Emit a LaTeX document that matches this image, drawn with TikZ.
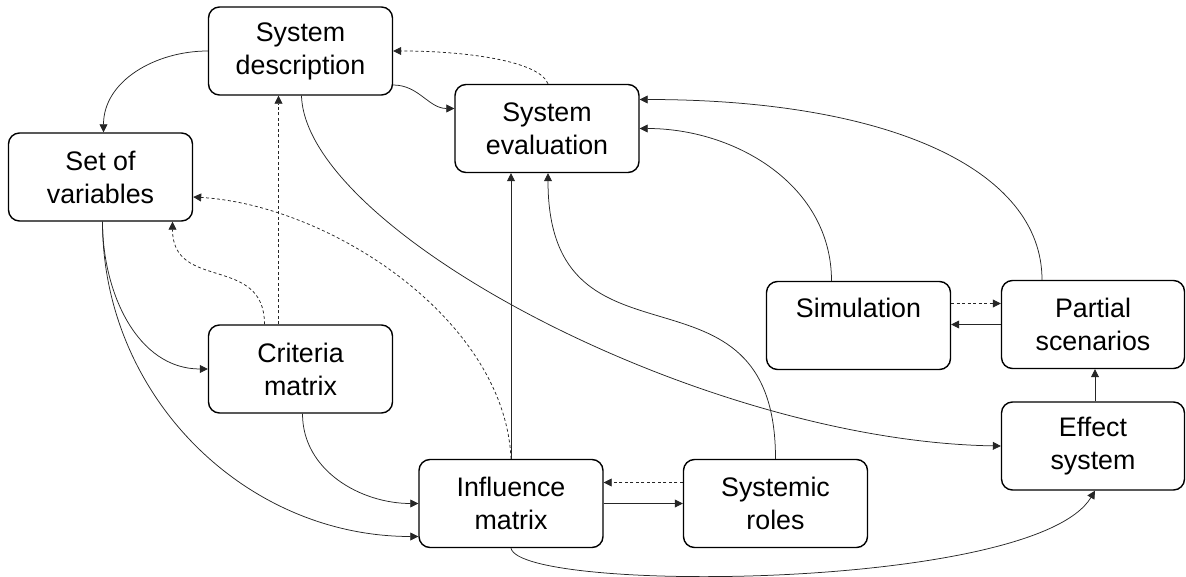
\documentclass[tikz,border=0pt]{standalone}
\usepackage{fontspec}
\setmainfont{Liberation Sans}
\usetikzlibrary{arrows.meta,calc}
\begin{document}
\begin{tikzpicture}[x=1pt,y=1pt,
  box/.style={draw=black,line width=1.4pt,rounded corners=11pt,minimum width=184pt,minimum height=88pt,align=center,font=\fontsize{26.8}{33}\selectfont,inner sep=2pt},
  conn/.style={line width=0.75pt,draw=black!85,-{Triangle[length=8pt,width=8pt]}},
  dconn/.style={conn,dash pattern=on 3pt off 2.5pt}]
\useasboundingbox (0,0) rectangle (1186,-577);
\node[box] (SD) at (300.5,-51) {System\\description};
\node[box] (SE) at (547,-128.5) {System\\evaluation};
\node[box] (SV) at (100.5,-177) {Set of\\variables};
\node[box] (CM) at (300.5,-369) {Criteria\\matrix};
\node[box] (IM) at (511,-503.5) {Influence\\matrix};
\node[box] (SR) at (775.5,-503.5) {Systemic\\roles};
\node[box,text depth=35pt] (Sim) at (858.5,-325.5) {Simulation};
\node[box,minimum width=183pt] (PS) at (1093,-324.5) {Partial\\scenarios};
\node[box,minimum width=183pt] (ES) at (1093,-446) {Effect\\system};

\draw[conn] (SD.west) to[out=180,in=90] ([xshift=3pt]SV.north);
\draw[conn] ([yshift=-34pt]SD.east) to[out=0,in=180] ([yshift=20pt]SE.west);
\draw[dconn] ([xshift=1pt]SE.north) .. controls +(-8,22) and +(77,0) .. (SD.east);
\draw[dconn] ([xshift=-22pt]CM.north) -- ([xshift=-22pt]SD.south);
\draw[dconn] ([xshift=-36pt]CM.north) to[out=90,in=-90,looseness=1.3] ([xshift=72pt]SV.south);
\draw[conn] ([xshift=2pt]SV.south) to[out=-90,in=180] (CM.west);
\draw[conn] ([xshift=2pt]SV.south) to[out=-90,in=180] ([yshift=-33pt]IM.west);
\draw[conn] ([xshift=2pt]CM.south) to[out=-90,in=180] (IM.west);
\draw[conn] (IM.north) -- (IM.north |- SE.south);
\draw[dconn] (IM.north) .. controls +(-6,139) and +(137,-8) .. ([yshift=-20pt]SV.east);
\draw[conn] (SR.north) to[out=90,in=-90,looseness=1.5] ([xshift=1pt]SE.south);
\draw[conn] ([xshift=1pt]SD.south) .. controls +(4,-135) and +(-300,5) .. (ES.west);
\draw[conn] (IM.south) .. controls +(10,-45) and +(-60,-100) .. ([xshift=2pt]ES.south);
\draw[conn] ([xshift=2pt]ES.north) -- ([xshift=2pt]PS.south);
\draw[dconn] ($(Sim.east)+(0,22)$) -- ($(PS.west|-Sim.east)+(0,22)$);
\draw[conn] (PS.west) -- (Sim.east |- PS.west);
\draw[conn] ([xshift=-27pt]Sim.north) to[out=90,in=0] (SE.east);
\draw[conn] ([xshift=-51pt]PS.north) .. controls +(0,110) and +(250,0) .. ([yshift=29pt]SE.east);
\draw[dconn] ($(SR.west)+(0,21)$) -- ($(IM.east)+(0,21)$);
\draw[conn] (IM.east) -- (SR.west);
\end{tikzpicture}
\end{document}
